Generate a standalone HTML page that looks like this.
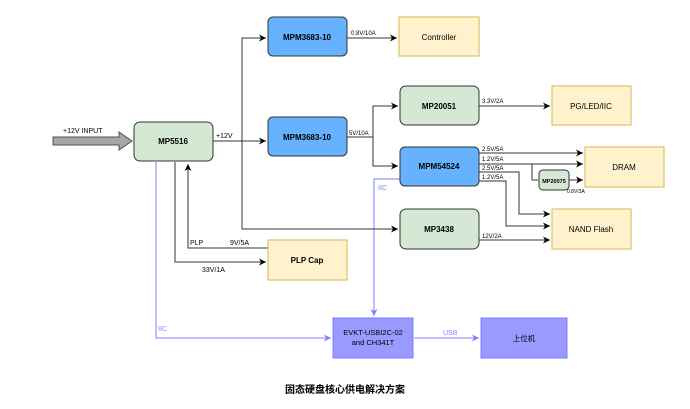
<!DOCTYPE html><html><head><meta charset="utf-8"><style>body{margin:0;background:#fff}svg{display:block;font-family:"Liberation Sans","Noto Sans CJK SC",sans-serif}</style></head><body>
<svg width="690" height="409" viewBox="0 0 690 409" xmlns="http://www.w3.org/2000/svg">
<defs><marker id="a" markerWidth="8" markerHeight="8" refX="7" refY="4" orient="auto" markerUnits="userSpaceOnUse"><path d="M0,0.5 L7,4 L0,7.5 L2,4z" fill="#000"/></marker>
<marker id="b" markerWidth="8" markerHeight="8" refX="7" refY="4" orient="auto" markerUnits="userSpaceOnUse"><path d="M0,0.5 L7,4 L0,7.5 L2,4z" fill="#7f7fff"/></marker></defs>
<g fill="none" stroke="#7f7fff" stroke-width="1">
<path d="M156,162 V338 H331" marker-end="url(#b)"/>
<path d="M400,179 H374 V316" marker-end="url(#b)"/>
<path d="M414,338 H479" marker-end="url(#b)"/>
</g>
<g fill="none" stroke="#333" stroke-width="1">
<path d="M213,141 H266" marker-end="url(#a)"/>
<path d="M242,141 V38 H266" marker-end="url(#a)"/>
<path d="M242,141 V229 H398" marker-end="url(#a)"/>
<path d="M347,38 H397" marker-end="url(#a)"/>
<path d="M347,137 H373 V106 H398" marker-end="url(#a)"/>
<path d="M373,137 V166 H398" marker-end="url(#a)"/>
<path d="M479,106 H550" marker-end="url(#a)"/>
<path d="M479,153 H583" marker-end="url(#a)"/>
<path d="M479,164 H583" marker-end="url(#a)"/>
<path d="M532,164 V180 H538"/>
<path d="M569,180 H583" marker-end="url(#a)"/>
<path d="M479,172 H519 V214 H550" marker-end="url(#a)"/>
<path d="M479,181 H506 V226 H550" marker-end="url(#a)"/>
<path d="M479,240 H550" marker-end="url(#a)"/>
<path d="M175,162 V262 H266" marker-end="url(#a)"/>
<path d="M268,248 H188 V164" marker-end="url(#a)"/>
</g>
<path d="M53,137 H119 V132 L132,141 L119,150 V145 H53z" fill="#a6a6a6" stroke="#555" stroke-width="1"/>
<g stroke-width="1">
<rect x="134" y="122" width="79" height="39" rx="6" fill="#d5e8d4" stroke="#333"/>
<rect x="268" y="17" width="79" height="39" rx="5" fill="#66b2ff" stroke="#333"/>
<rect x="268" y="117" width="79" height="39" rx="5" fill="#66b2ff" stroke="#333"/>
<rect x="399" y="17" width="80" height="39" fill="#fff2cc" stroke="#d6b656"/>
<rect x="400" y="86" width="79" height="39" rx="6" fill="#d5e8d4" stroke="#333"/>
<rect x="552" y="86" width="79" height="39" fill="#fff2cc" stroke="#d6b656"/>
<rect x="400" y="147" width="79" height="39" rx="5" fill="#66b2ff" stroke="#333"/>
<rect x="585" y="147" width="79" height="40" fill="#fff2cc" stroke="#d6b656"/>
<rect x="539" y="170" width="30" height="20" rx="4" fill="#d5e8d4" stroke="#333"/>
<rect x="400" y="209" width="79" height="40" rx="6" fill="#d5e8d4" stroke="#333"/>
<rect x="552" y="209" width="79" height="40" fill="#fff2cc" stroke="#d6b656"/>
<rect x="268" y="240" width="79" height="40" fill="#fff2cc" stroke="#d6b656"/>
<rect x="333" y="318" width="80" height="40" fill="#9999ff" stroke="#7f7fff"/>
<rect x="481" y="318" width="86" height="40" fill="#9999ff" stroke="#7f7fff"/>
</g>
<g font-size="8" text-anchor="middle" font-weight="bold" fill="#000">
<text x="173" y="144">MP5516</text>
<text x="307" y="40">MPM3683-10</text>
<text x="307" y="140">MPM3683-10</text>
<text x="439" y="109">MP20051</text>
<text x="439" y="169">MPM54524</text>
<text x="439" y="232">MP3438</text>
<text x="307" y="263">PLP Cap</text>
<text x="554" y="183" font-size="5.5">MP20075</text>
</g>
<g font-size="8" text-anchor="middle" fill="#000">
<text x="439" y="40">Controller</text>
<text x="591" y="109">PG/LED/IIC</text>
<text x="624" y="170">DRAM</text>
<text x="591" y="232">NAND Flash</text>
<text x="373" y="335" font-size="7.5">EVKT-USBI2C-02</text>
<text x="373" y="345" font-size="7.5">and CH341T</text>
<text x="524" y="341" font-size="7.5">上位机</text>
</g>
<g font-size="6" fill="#000">
<text x="351" y="35">0.8V/10A</text>
<text x="349" y="135">5V/10A</text>
<text x="482" y="103">3.3V/2A</text>
<text x="482" y="151">2.5V/5A</text>
<text x="482" y="161">1.2V/5A</text>
<text x="482" y="170">2.5V/5A</text>
<text x="482" y="179">1.2V/5A</text>
<text x="567" y="193" font-size="5">0.8V/3A</text>
<text x="482" y="238">12V/2A</text>
</g>
<g font-size="7" fill="#000">
<text x="63" y="133">+12V INPUT</text>
<text x="216" y="138">+12V</text>
<text x="190" y="245">PLP</text>
<text x="230" y="245">9V/5A</text>
<text x="202" y="272">33V/1A</text>
</g>
<g font-size="7" fill="#7f7fff">
<text x="378" y="190">IIC</text>
<text x="158" y="331">IIC</text>
<text x="443" y="335">USB</text>
</g>
<text x="345" y="393" font-size="10" font-weight="bold" text-anchor="middle">固态硬盘核心供电解决方案</text>
</svg></body></html>
